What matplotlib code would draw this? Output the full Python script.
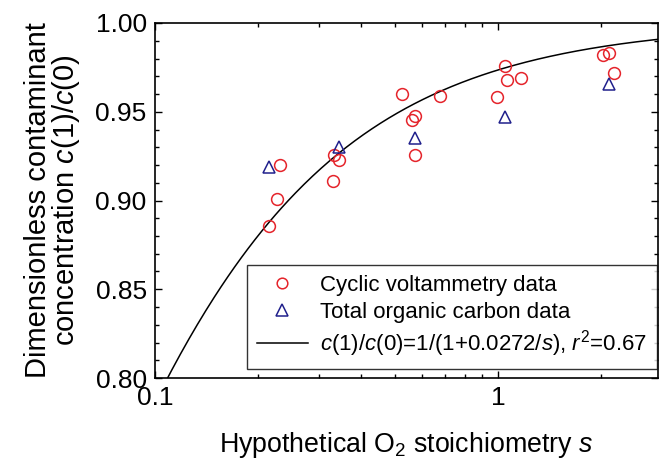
import numpy as np
import matplotlib
matplotlib.use('Agg')
import matplotlib.pyplot as plt
from matplotlib.ticker import LogLocator, FixedLocator, FixedFormatter, MultipleLocator

plt.rcParams['font.family'] = ['Liberation Sans', 'DejaVu Sans']
plt.rcParams['mathtext.fontset'] = 'custom'
plt.rcParams['mathtext.rm'] = 'Liberation Sans'
plt.rcParams['mathtext.it'] = 'Liberation Sans:italic'

# cyclic voltammetry data (s, c(1)/c(0))
cv_s = [0.231, 0.227, 0.2155, 0.331, 0.333, 0.345, 0.526, 0.573, 0.560, 0.573,
        0.678, 0.991, 1.048, 1.064, 1.167, 2.028, 2.103, 2.178]
cv_c = [0.920, 0.901, 0.8856, 0.911, 0.9255, 0.923, 0.960, 0.9476, 0.9453, 0.9256,
        0.959, 0.9583, 0.976, 0.9677, 0.9688, 0.982, 0.983, 0.972]

# total organic carbon data
toc_s = [0.2155, 0.344, 0.573, 1.048, 2.106]
toc_c = [0.9187, 0.930, 0.935, 0.947, 0.9656]

k_fit = 0.0272  # fit constant
s_fit = np.logspace(-1, np.log10(3), 300)
c_fit = 1.0 / (1.0 + k_fit / s_fit)

fig = plt.figure(figsize=(6.59, 4.68), dpi=100)
ax = fig.add_axes([155 / 659, 90 / 468, 503 / 659, 355 / 468])

ax.plot(s_fit, c_fit, color='k', lw=1.1,
        label=r'$c$(1)/$c$(0)=1/(1+0.0272/$s$), $r^2$=0.67')
ax.plot(cv_s, cv_c, 'o', mfc='none', mec='#e5242b', ms=8.5, mew=1.1,
        label='Cyclic voltammetry data')
ax.plot(toc_s, toc_c, '^', mfc='none', mec='#20208c', ms=9, mew=1.1,
        label='Total organic carbon data')

ax.set_xscale('log')
ax.set_xlim(0.1, 2.93)
ax.set_ylim(0.80, 1.00)

ax.xaxis.set_major_locator(FixedLocator([0.1, 1]))
ax.xaxis.set_major_formatter(FixedFormatter(['0.1', '1']))
ax.xaxis.set_minor_locator(LogLocator(base=10, subs=np.arange(2, 10)))
ax.xaxis.set_minor_formatter(FixedFormatter([]))
ax.yaxis.set_major_locator(MultipleLocator(0.05))
ax.yaxis.set_minor_locator(MultipleLocator(0.01))
ax.yaxis.set_major_formatter(plt.FormatStrFormatter('%.2f'))

ax.tick_params(which='both', direction='in', top=True, right=True, labelsize=19, width=1)
ax.tick_params(which='major', length=5, pad=6)
ax.tick_params(which='minor', length=3)
for sp in ax.spines.values():
    sp.set_linewidth(1.2)

ax.set_xlabel(r'Hypothetical O$_2$ stoichiometry $s$', fontsize=19.3, labelpad=14)
ax.set_ylabel('Dimensionless contaminant\nconcentration $c$(1)/$c$(0)', fontsize=21,
              labelpad=10, linespacing=0.88)

h, l = ax.get_legend_handles_labels()
leg = ax.legend([h[1], h[2], h[0]], [l[1], l[2], l[0]], loc='lower right',
                bbox_to_anchor=(502 / 503, 9 / 355),
                fontsize=16, frameon=True, fancybox=False, edgecolor='k',
                handlelength=2.3, borderpad=0.45, labelspacing=0.25,
                handletextpad=0.55, borderaxespad=0, markerscale=0.9)
leg.get_frame().set_linewidth(1.0)

fig.savefig('out.png', dpi=100)
